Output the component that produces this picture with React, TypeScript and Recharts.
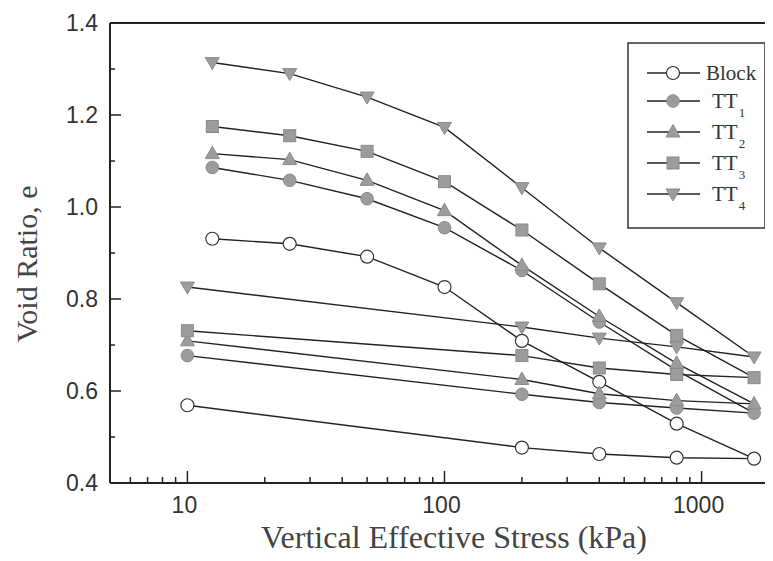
import React from "react";
import { LineChart, Line, XAxis, YAxis, ReferenceLine } from "recharts";

// Stress steps (kPa): loading branch, then unloading back to 10 kPa
const loadingStress = [12.5, 25, 50, 100, 200, 400, 800, 1600];
const unloadingStress = [800, 400, 200, 10];

// Void ratio for each specimen
const blockLoad = [0.931, 0.92, 0.892, 0.826, 0.709, 0.62, 0.529, 0.453];
const blockUnload = [0.455, 0.463, 0.477, 0.569];
const tt1Load = [1.086, 1.058, 1.018, 0.955, 0.862, 0.75, 0.645, 0.552];
const tt1Unload = [0.563, 0.575, 0.593, 0.677];
const tt2Load = [1.116, 1.103, 1.058, 0.992, 0.873, 0.762, 0.66, 0.572];
const tt2Unload = [0.579, 0.594, 0.625, 0.709];
const tt3Load = [1.175, 1.155, 1.121, 1.055, 0.95, 0.833, 0.721, 0.629];
const tt3Unload = [0.636, 0.65, 0.677, 0.731];
const tt4Load = [1.314, 1.29, 1.239, 1.173, 1.042, 0.911, 0.792, 0.674];
const tt4Unload = [0.696, 0.715, 0.739, 0.826];

// Axis ticks (major ones are labelled)
const xTicks = [6, 7, 8, 9, 10, 20, 30, 40, 50, 60, 70, 80, 90, 100, 200, 300, 400, 500, 600, 700, 800, 900, 1000];
const xMajor = [10, 100, 1000];
const yTicks = [0.4, 0.5, 0.6, 0.7, 0.8, 0.9, 1.0, 1.1, 1.2, 1.3, 1.4];
const yMajor = ["0.4", "0.6", "0.8", "1.0", "1.2", "1.4"];

type Shape = "open" | "circle" | "up" | "square" | "down";

const series: { name: string; sub?: string; shape: Shape; load: number[]; unload: number[] }[] = [
  { name: "Block", shape: "open", load: blockLoad, unload: blockUnload },
  { name: "TT", sub: "1", shape: "circle", load: tt1Load, unload: tt1Unload },
  { name: "TT", sub: "2", shape: "up", load: tt2Load, unload: tt2Unload },
  { name: "TT", sub: "3", shape: "square", load: tt3Load, unload: tt3Unload },
  { name: "TT", sub: "4", shape: "down", load: tt4Load, unload: tt4Unload },
];

const toPoints = (load: number[], unload: number[]) => [
  ...loadingStress.map((x, i) => ({ x, e: load[i] })),
  ...unloadingStress.map((x, i) => ({ x, e: unload[i] })),
];

const GRAY = "#9c9c9c";
const GRAY_EDGE = "#8a8a8a";
const INK = "#222";
const SANS = "'Liberation Sans', Arial, sans-serif";
const SERIF = "'Liberation Serif', 'Times New Roman', serif";

function Marker({ shape, cx, cy }: { shape: Shape; cx: number; cy: number }) {
  switch (shape) {
    case "open":
      return <circle cx={cx} cy={cy} r={6.5} fill="#fff" stroke="#333" strokeWidth={1.2} />;
    case "circle":
      return <circle cx={cx} cy={cy} r={6.3} fill={GRAY} stroke={GRAY_EDGE} strokeWidth={1} />;
    case "up":
      return (
        <polygon
          points={`${cx},${cy - 7.5} ${cx + 7},${cy + 5} ${cx - 7},${cy + 5}`}
          fill={GRAY}
          stroke={GRAY_EDGE}
          strokeWidth={1}
        />
      );
    case "square":
      return <rect x={cx - 6} y={cy - 6} width={12} height={12} fill={GRAY} stroke={GRAY_EDGE} strokeWidth={1} />;
    case "down":
    default:
      return (
        <polygon
          points={`${cx - 7},${cy - 5} ${cx + 7},${cy - 5} ${cx},${cy + 7}`}
          fill={GRAY}
          stroke={GRAY_EDGE}
          strokeWidth={1}
        />
      );
  }
}

const XTick = (props: any) => {
  const { x, y, payload } = props;
  const major = xMajor.includes(payload.value);
  return (
    <g>
      <line x1={x} x2={x} y1={y} y2={y - (major ? 12 : 6)} stroke={INK} strokeWidth={1.5} />
      {major && (
        <text x={x - 3} y={y + 30} textAnchor="middle" fontFamily={SANS} fontSize={23} fill="#333">
          {payload.value}
        </text>
      )}
    </g>
  );
};

const YTick = (props: any) => {
  const { x, y, payload } = props;
  const label = Number(payload.value).toFixed(1);
  const major = yMajor.includes(label);
  return (
    <g>
      <line x1={x} x2={x + (major ? 11 : 5)} y1={y} y2={y} stroke={INK} strokeWidth={1.5} />
      {major && (
        <text x={x - 12} y={y + 8} textAnchor="end" fontFamily={SANS} fontSize={23} fill="#333">
          {label}
        </text>
      )}
    </g>
  );
};

function LegendBox() {
  const rows = [65, 93, 124, 155, 186];
  return (
    <svg width={140} height={190} style={{ position: "absolute", left: 618, top: 33, overflow: "visible" }}>
      <rect x={2} y={2} width={137} height={185} fill="#fff" stroke="#333" strokeWidth={1.5} />
      {series.map((s, i) => {
        const cy = rows[i] - 33;
        return (
          <g key={s.name + (s.sub || "")}>
            <line x1={21} x2={74} y1={cy} y2={cy} stroke={INK} strokeWidth={1.4} />
            <Marker shape={s.shape} cx={47} cy={cy} />
            {s.sub ? (
              <text x={86} y={cy + 7} fontFamily={SERIF} fontSize={21} fill="#333">
                {s.name}
                <tspan dx={1} dy={9} fontSize={13}>
                  {s.sub}
                </tspan>
              </text>
            ) : (
              <text x={80} y={cy + 7} fontFamily={SERIF} fontSize={21} fill="#333">
                {s.name}
              </text>
            )}
          </g>
        );
      })}
    </svg>
  );
}

export default function App() {
  return (
    <div style={{ position: "relative", width: 765, height: 553, overflow: "hidden", background: "#fff" }}>
      <LineChart width={790} height={553} margin={{ top: 15, right: 19, bottom: 18, left: 42 }}>
        <XAxis
          dataKey="x"
          type="number"
          scale="log"
          domain={[5, 2000]}
          allowDataOverflow
          ticks={xTicks}
          interval={0}
          tick={<XTick />}
          tickLine={false}
          tickSize={0}
          tickMargin={0}
          height={60}
          axisLine={{ stroke: INK, strokeWidth: 2 }}
        />
        <YAxis
          dataKey="e"
          type="number"
          domain={[0.4, 1.4]}
          allowDataOverflow
          ticks={yTicks}
          interval={0}
          tick={<YTick />}
          tickLine={false}
          tickSize={0}
          tickMargin={0}
          width={60}
          axisLine={{ stroke: INK, strokeWidth: 2 }}
        />
        <ReferenceLine y={1.4} stroke={INK} strokeWidth={2} />
        {series.map((s) => (
          <Line
            key={s.name + (s.sub || "")}
            data={toPoints(s.load, s.unload)}
            dataKey="e"
            type="linear"
            stroke={INK}
            strokeWidth={1.4}
            isAnimationActive={false}
            legendType="none"
            dot={(p: any) => <Marker key={`${s.shape}-${p.index}`} shape={s.shape} cx={p.cx} cy={p.cy} />}
            activeDot={false}
          />
        ))}
        <text x={446} y={540} textAnchor="middle" fontFamily={SERIF} fontSize={32} fill="#444">
          Vertical Effective Stress (kPa)
        </text>
        <text
          x={29}
          y={256}
          textAnchor="middle"
          transform="rotate(-90 29 256)"
          fontFamily={SERIF}
          fontSize={30}
          fill="#444"
        >
          Void Ratio, e
        </text>
      </LineChart>
      <LegendBox />
    </div>
  );
}
